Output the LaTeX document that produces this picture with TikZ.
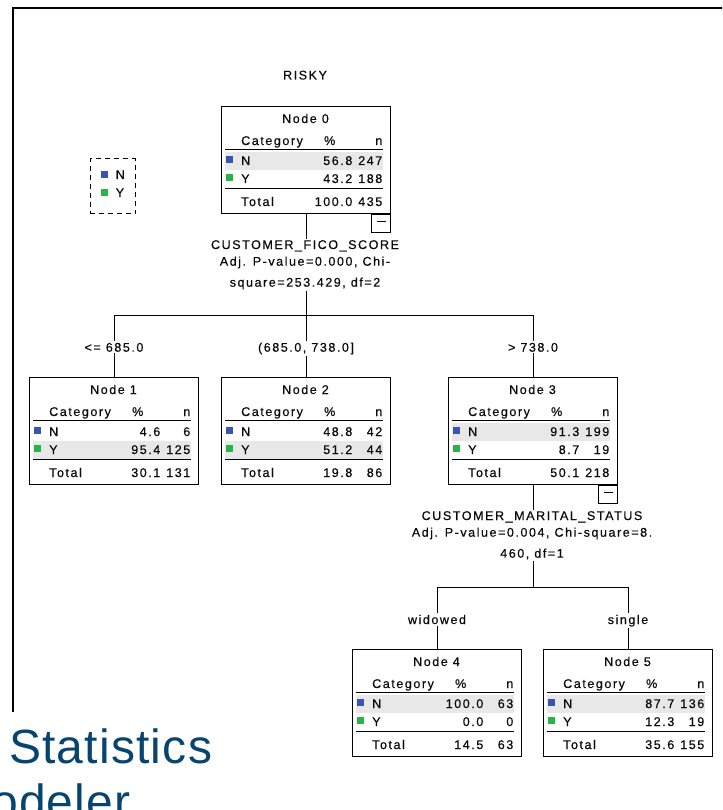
\documentclass[tikz,border=0pt]{standalone}
\usepackage{fontspec}
\setmainfont{Liberation Sans}
\newfontfamily\tf[LetterSpace=12,FakeBold=0.4]{Liberation Sans}
\newfontfamily\brandfont[LetterSpace=2.5]{Liberation Sans}
\definecolor{cN}{RGB}{60,84,175}
\definecolor{cY}{RGB}{42,180,72}
\definecolor{bandc}{RGB}{232,232,232}
\definecolor{txtc}{RGB}{10,10,10}
\definecolor{ibmblue}{RGB}{8,68,112}
\tikzset{
  treebox/.style={draw=black, line width=1pt, minimum width=169pt, minimum height=107pt, inner sep=0pt, fill=white},
  txt/.style={font=\tf\fontsize{12.6}{12.6}\selectfont, inner sep=0pt, text=txtc},
  lbl/.style={txt, inner sep=1.5pt, fill=white},
  conn/.style={draw=black, line width=1pt},
  tabrule/.style={draw=black, line width=1.3pt},
  minusbox/.style={draw=black, line width=1pt, minimum width=19pt, minimum height=18pt, inner sep=0pt, fill=white, anchor=north east},
  brand/.style={anchor=base west, inner sep=0pt, font=\brandfont\fontsize{48}{48}\selectfont, text=ibmblue}
}
\newcommand\cartnode[8]{%
  \node[treebox] (#1) at (#2,#3) {};
  \begin{scope}[shift={(#1.north west)}]
    \ifnum#8=0 \fill[bandc] (4,45.7) rectangle (162,64);\else \fill[bandc] (4,64) rectangle (162,82);\fi
    \node[txt,anchor=base] (#1t) at (84.5,17) {Node #4};
    \node[txt,anchor=base west] (#1c) at (20,39) {Category};
    \node[txt,anchor=base east] (#1p) at (114.5,39) {\%};
    \node[txt,anchor=base east] (#1n) at (161.5,39) {n};
    \draw[tabrule] (4,43.5) -- (162,43.5);
    \fill[cN] (4.5,50) rectangle (11.5,57);
    \node[txt,anchor=base west] (#1na) at (20,59) {N};
    \fill[cY] (4.5,68) rectangle (11.5,75);
    \node[txt,anchor=base west] (#1ya) at (20,77) {Y};
    \draw[tabrule] (4,82.5) -- (162,82.5);
    \node[txt,anchor=base west] (#1to) at (20,100) {Total};
    #5
    #6
    #7
  \end{scope}}
\newcommand\rowvals[4]{%
  \node[txt,anchor=base east] (#1a) at (131.5,#2) {#3};
  \node[txt,anchor=base east] (#1b) at (161.5,#2) {#4};}
\begin{document}
\begin{tikzpicture}[x=1pt,y=-1pt]
\useasboundingbox (0,0) rectangle (722,810);
\clip (0,0) rectangle (722,810);
\fill[white] (0,0) rectangle (722,810);
% frame
\draw[line width=1.3pt] (13,712) -- (13,8) -- (723,8);
% title
\node[txt,anchor=base] (risky) at (305,79.5) {RISKY};
% legend
\node[draw=black, line width=1pt, dash pattern=on 5pt off 4pt, minimum width=45.7pt, minimum height=55pt, inner sep=0pt, anchor=north west] (leg) at (89.5,158.5) {};
\fill[cN] (100.7,171.5) rectangle (108,178.5);
\node[txt,anchor=base west] (legN) at (115.5,179) {N};
\fill[cY] (100.7,189) rectangle (108,196);
\node[txt,anchor=base west] (legY) at (115.5,197) {Y};
% nodes
\cartnode{n0}{306}{160}{0}{\rowvals{n0r1}{59}{56.8}{247}}{\rowvals{n0r2}{77}{43.2}{188}}{\rowvals{n0r3}{100}{100.0}{435}}{0}
\cartnode{n1}{114}{431}{1}{\rowvals{n1r1}{59}{4.6}{6}}{\rowvals{n1r2}{77}{95.4}{125}}{\rowvals{n1r3}{100}{30.1}{131}}{1}
\cartnode{n2}{306}{431}{2}{\rowvals{n2r1}{59}{48.8}{42}}{\rowvals{n2r2}{77}{51.2}{44}}{\rowvals{n2r3}{100}{19.8}{86}}{1}
\cartnode{n3}{533}{431}{3}{\rowvals{n3r1}{59}{91.3}{199}}{\rowvals{n3r2}{77}{8.7}{19}}{\rowvals{n3r3}{100}{50.1}{218}}{0}
\cartnode{n4}{437}{703}{4}{\rowvals{n4r1}{59}{100.0}{63}}{\rowvals{n4r2}{77}{0.0}{0}}{\rowvals{n4r3}{100}{14.5}{63}}{0}
\cartnode{n5}{628}{703}{5}{\rowvals{n5r1}{59}{87.7}{136}}{\rowvals{n5r2}{77}{12.3}{19}}{\rowvals{n5r3}{100}{35.6}{155}}{0}
% collapse boxes
\node[minusbox] (n0m) at (n0.south east) {\rule[3.5pt]{9pt}{1pt}};
\node[minusbox] (n3m) at (n3.south east) {\rule[3.5pt]{9pt}{1pt}};
% split labels
\node[lbl,anchor=base] (f1) at (305,249) {CUSTOMER\_FICO\_SCORE};
\node[lbl,anchor=base] (f2) at (305,265.7) {Adj. P-value=0.000, Chi-};
\node[lbl,anchor=base] (f3) at (305,286.7) {square=253.429, df=2};
\node[lbl,anchor=base] (m1) at (532,520) {CUSTOMER\_MARITAL\_STATUS};
\node[lbl,anchor=base] (m2) at (532,536.7) {Adj. P-value=0.004, Chi-square=8.};
\node[lbl,anchor=base] (m3) at (532,557.7) {460, df=1};
% connectors
\coordinate (j0) at (306,315.5);
\coordinate (j3) at (533,587.5);
\draw[conn] (n0.south) -- (n0.south |- f1.north);
\draw[conn] (n0.south |- f3.south) -- (j0);
\draw[conn] (n1.north) |- (j0) -| (n3.north);
\draw[conn] (j0) -- (n2.north);
\draw[conn] (n3.south) -- (n3.south |- m1.north);
\draw[conn] (n3.south |- m3.south) -- (j3);
\draw[conn] (n4.north) |- (j3) -| (n5.north);
% edge labels
\node[lbl,anchor=base] (e1) at (114,351.7) {<= 685.0};
\node[lbl,anchor=base] (e2) at (306,351.7) {(685.0, 738.0]};
\node[lbl,anchor=base] (e3) at (533,351.7) {> 738.0};
\node[lbl,anchor=base] (e4) at (437,624) {widowed};
\node[lbl,anchor=base] (e5) at (628,624) {single};
% branding text
\node[brand] (brand1) at (9,763) {Statistics};
\node[brand] (brand2) at (-9,818) {odeler};
\end{tikzpicture}
\end{document}
